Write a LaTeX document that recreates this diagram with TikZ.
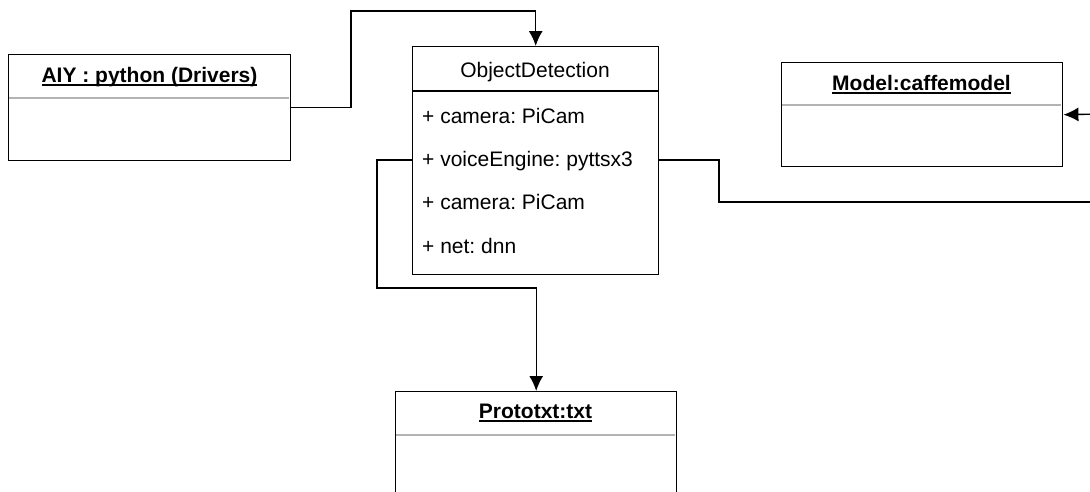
\documentclass[tikz,border=0pt]{standalone}
\usepackage{fontspec}
\setmainfont{Liberation Sans}
\usetikzlibrary{arrows.meta}
\definecolor{sepgray}{HTML}{B3B3B3}
\frenchspacing
\newsavebox\ulbox
\newcommand\ultext[1]{\sbox\ulbox{#1}\rlap{\rule[-3.5pt]{\wd\ulbox}{1.2pt}}\usebox\ulbox}
\tikzset{
  umlbox/.style={draw=black, line width=1.4pt, anchor=north west, inner sep=0pt},
  divider/.style={draw=sepgray, line width=1.4pt},
  hdrline/.style={draw=black, line width=1.4pt},
  objtitle/.style={font=\fontsize{21}{25}\selectfont\bfseries, anchor=base, inner sep=0pt},
  clstitle/.style={font=\fontsize{21}{25}\selectfont, anchor=base, inner sep=0pt},
  attr/.style={font=\fontsize{21}{25}\selectfont, anchor=base west, inner sep=0pt},
  conn/.style={draw=black, line width=1.4pt},
  arr/.style={conn, -{Latex[length=15pt, width=14pt, fill=black]}}
}
\begin{document}
\begin{tikzpicture}[x=1pt, y=-1pt]
\useasboundingbox (0,0) rectangle (1090,491);
\clip (0,0) rectangle (1090,491);

% AIY driver object
\node[umlbox, minimum width=282pt, minimum height=106pt] (aiy) at (8,54) {};
\draw[divider] (9,98) -- (289,98);
\node[objtitle] (aiyt) at (149.5,82) {\ultext{AIY : python (Drivers)}};

% ObjectDetection class
\node[umlbox, minimum width=246pt, minimum height=228pt] (obj) at (412,46) {};
\draw[hdrline] (obj.west |- 0,91) -- (obj.east |- 0,91);
\node[clstitle] (objt) at (535,77) {ObjectDetection};
\node[attr] (a1) at (422,123) {+ camera: PiCam};
\node[attr] (a2) at (422,166) {+ voiceEngine: pyttsx3};
\node[attr] (a3) at (422,209.5) {+ camera: PiCam};
\node[attr] (a4) at (422,253) {+ net: dnn};
\coordinate (vrow) at (535,160);

% Model object
\node[umlbox, minimum width=281pt, minimum height=104pt] (model) at (781,62) {};
\draw[divider] (782,105) -- (1061,105);
\node[objtitle] (modelt) at (921.5,90) {\ultext{Model:caffemodel}};

% Prototxt object (runs past the lower edge)
\node[umlbox, minimum width=281pt, minimum height=160pt] (proto) at (395,391) {};
\draw[divider] (396,435) -- (675,435);
\node[objtitle] (protot) at (535.5,418) {\ultext{Prototxt:txt}};

% free ends beyond the right edge
\coordinate (rin) at (1100,114);
\coordinate (rout) at (1100,202);

% connectors
\draw[arr] (aiy.east) -| (351,11) -| (obj.north);
\draw[arr] (obj.west |- vrow) -| (377,288) -| (proto.north);
\draw[conn] (obj.east |- vrow) -| (719,202) -- (rout);
\draw[arr] (rin) -- (model.east);
\end{tikzpicture}
\end{document}
